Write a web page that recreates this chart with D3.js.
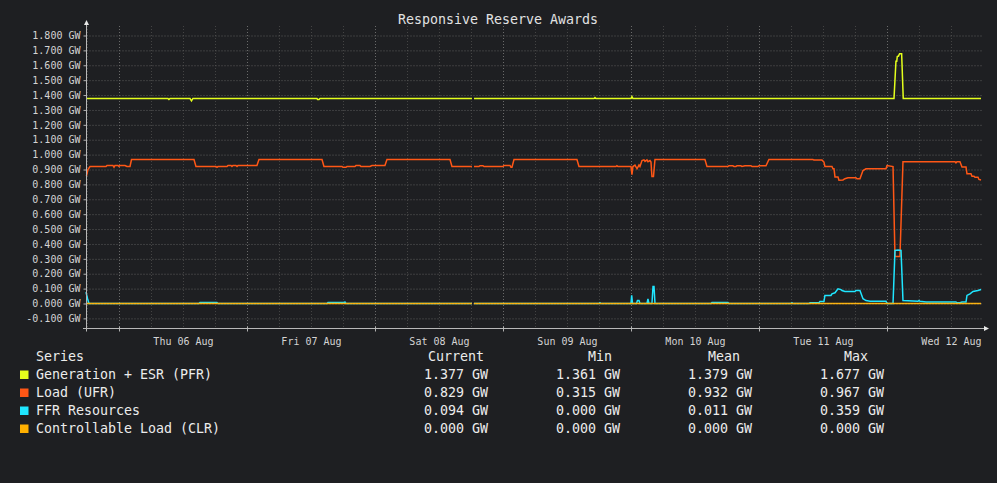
<!DOCTYPE html>
<html>
<head>
<meta charset="utf-8">
<script src="https://cdn.jsdelivr.net/npm/d3@7"></script>
<style>
    html, body { margin: 0; padding: 0; background: #1e1f22; }
    svg { display: block; font-family: "DejaVu Sans Mono", monospace; }
</style>
</head>
<body>
<div id="chart"></div>
<script>
// Series data: [day-of-August hh:mm (UTC), GW]. null = missing sample
const seriesNames = ["Generation + ESR (PFR)", "Load (UFR)", "FFR Resources", "Controllable Load (CLR)"];
const seriesColors = ["#e4ff1c", "#ff5716", "#1fe6ff", "#ffb000"];
const legendCurrent = [1.377, 0.829, 0.094, 0.000];
const legendMin = [1.361, 0.315, 0.000, 0.000];
const legendMean = [1.379, 0.932, 0.011, 0.000];
const legendMax = [1.677, 0.967, 0.359, 0.000];

const genData = [
    ["05 17:49", 1.377], ["06 09:11", 1.377], ["06 09:22", 1.370], ["06 09:34", 1.377],
    ["06 13:19", 1.377], ["06 13:36", 1.361], ["06 13:52", 1.377],
    ["07 13:07", 1.377], ["07 13:15", 1.370], ["07 13:30", 1.370], ["07 13:41", 1.377],
    ["08 18:11", 1.377], ["08 18:22", null], ["08 18:34", 1.377],
    ["09 17:04", 1.377], ["09 17:15", 1.383], ["09 17:26", 1.377],
    ["10 00:00", 1.377], ["10 00:11", 1.390], ["10 00:22", 1.377],
    ["12 01:19", 1.377], ["12 01:41", 1.627], ["12 01:50", 1.627], ["12 01:56", 1.659],
    ["12 02:10", 1.662], ["12 02:18", 1.674], ["12 02:22", 1.677], ["12 02:45", 1.677],
    ["12 03:03", 1.377], ["12 17:38", 1.377]
];

const loadData = [
    ["05 17:54", 0.855], ["05 18:11", 0.900], ["05 18:34", 0.920], ["05 21:34", 0.920],
    ["05 21:45", 0.927], ["05 22:52", 0.927], ["05 23:04", 0.915], ["05 23:15", 0.927],
    ["05 23:49", 0.927], ["06 00:00", 0.920], ["06 00:11", 0.927], ["06 01:08", 0.927],
    ["06 01:30", 0.920], ["06 02:04", 0.920], ["06 02:21", 0.967], ["06 14:04", 0.967],
    ["06 14:26", 0.920], ["06 18:11", 0.920], ["06 18:22", 0.915], ["06 18:34", 0.920],
    ["06 20:15", 0.920], ["06 20:26", 0.927], ["06 21:00", 0.927], ["06 21:11", 0.920],
    ["06 21:22", 0.927], ["06 21:56", 0.927], ["06 22:08", 0.920], ["06 22:19", 0.927],
    ["07 01:52", 0.927], ["07 02:15", 0.967], ["07 14:04", 0.967], ["07 14:26", 0.920],
    ["07 17:49", 0.920], ["07 18:00", 0.915], ["07 18:34", 0.915], ["07 18:45", 0.920],
    ["07 20:15", 0.920], ["07 20:26", 0.927], ["07 21:11", 0.927], ["07 21:22", 0.920],
    ["07 23:04", 0.920], ["07 23:26", 0.927], ["08 01:52", 0.927], ["08 02:15", 0.967],
    ["08 14:04", 0.967], ["08 14:26", 0.920], ["08 18:11", 0.920], ["08 18:22", null],
    ["08 18:34", 0.920], ["08 19:30", 0.920], ["08 19:41", 0.925], ["08 20:15", 0.925],
    ["08 20:26", 0.920], ["09 00:00", 0.920], ["09 00:11", 0.927], ["09 01:19", 0.927],
    ["09 01:30", 0.915], ["09 01:41", 0.915], ["09 02:04", 0.967], ["09 13:52", 0.967],
    ["09 14:15", 0.920], ["09 21:11", 0.920], ["09 21:22", 0.925], ["09 21:34", 0.920],
    ["10 00:00", 0.920], ["10 00:11", 0.866], ["10 00:22", 0.920], ["10 00:45", 0.930],
    ["10 01:08", 0.905], ["10 01:30", 0.930], ["10 01:41", 0.920], ["10 02:04", 0.960],
    ["10 02:26", 0.965], ["10 02:38", 0.955], ["10 03:00", 0.965], ["10 03:11", 0.952],
    ["10 03:34", 0.960], ["10 03:45", 0.950], ["10 03:56", 0.853], ["10 04:13", 0.853],
    ["10 04:30", 0.967], ["10 13:52", 0.967], ["10 14:15", 0.920], ["10 18:11", 0.920],
    ["10 18:22", 0.925], ["10 19:07", 0.925], ["10 19:19", 0.920], ["10 19:41", 0.920],
    ["10 19:52", 0.925], ["10 20:37", 0.925], ["10 20:49", 0.920], ["10 21:22", 0.925],
    ["10 22:30", 0.925], ["10 22:41", 0.920], ["10 23:49", 0.920], ["11 00:00", 0.925],
    ["11 01:19", 0.925], ["11 01:52", 0.967], ["11 10:07", 0.967], ["11 10:19", 0.963],
    ["11 11:49", 0.963], ["11 12:11", 0.950], ["11 12:22", 0.920], ["11 13:41", 0.920],
    ["11 13:52", 0.905], ["11 14:04", 0.905], ["11 14:15", 0.850], ["11 14:49", 0.850],
    ["11 15:00", 0.828], ["11 15:45", 0.830], ["11 16:07", 0.838], ["11 16:41", 0.844],
    ["11 18:11", 0.844], ["11 18:22", 0.838], ["11 18:56", 0.838], ["11 19:30", 0.893],
    ["11 20:04", 0.905], ["11 23:49", 0.905], ["12 00:00", 0.927], ["12 01:08", 0.920],
    ["12 01:30", 0.315], ["12 02:26", 0.315], ["12 03:00", 0.952], ["12 12:45", 0.952],
    ["12 12:56", 0.945], ["12 13:07", 0.952], ["12 13:41", 0.952], ["12 14:04", 0.917],
    ["12 14:49", 0.917], ["12 15:00", 0.871], ["12 15:45", 0.871], ["12 15:56", 0.855],
    ["12 16:19", 0.855], ["12 16:30", 0.848], ["12 17:04", 0.848], ["12 17:15", 0.833],
    ["12 17:38", 0.829]
];

const ffrData = [
    ["05 17:49", 0.076], ["05 18:06", 0.034], ["05 18:22", 0.000],
    ["06 15:00", 0.000], ["06 15:11", 0.006], ["06 18:22", 0.006], ["06 18:34", 0.000],
    ["07 15:00", 0.000], ["07 15:11", 0.006], ["07 18:11", 0.006], ["07 18:22", 0.010], ["07 18:34", 0.000],
    ["08 18:11", 0.000], ["08 18:22", null], ["08 18:34", 0.000],
    ["09 18:00", 0.000], ["09 18:11", 0.005], ["09 18:22", 0.000],
    ["10 00:00", 0.000], ["10 00:08", 0.055], ["10 00:17", 0.000],
    ["10 01:02", 0.000], ["10 01:13", 0.020], ["10 01:30", 0.020], ["10 01:41", 0.000],
    ["10 03:00", 0.000], ["10 03:11", 0.030], ["10 03:22", 0.000],
    ["10 03:56", 0.000], ["10 04:08", 0.115], ["10 04:19", 0.115], ["10 04:30", 0.000],
    ["10 15:00", 0.000], ["10 15:11", 0.006], ["10 18:11", 0.006], ["10 18:22", 0.000],
    ["11 06:00", 0.000], ["11 06:11", 0.005], ["11 06:22", 0.000],
    ["11 09:22", 0.000], ["11 09:34", 0.005], ["11 11:15", 0.005], ["11 11:26", 0.013],
    ["11 12:11", 0.013], ["11 12:22", 0.054], ["11 13:30", 0.054], ["11 13:41", 0.065],
    ["11 14:15", 0.072], ["11 14:49", 0.099], ["11 15:22", 0.093], ["11 15:34", 0.087],
    ["11 16:07", 0.081], ["11 18:00", 0.081], ["11 18:11", 0.087], ["11 18:56", 0.087],
    ["11 19:30", 0.032], ["11 20:04", 0.020], ["11 20:49", 0.015], ["11 23:49", 0.015],
    ["12 00:00", 0.000], ["12 01:08", 0.000], ["12 01:30", 0.356], ["12 02:04", 0.359],
    ["12 02:38", 0.356], ["12 03:00", 0.020], ["12 05:49", 0.015], ["12 06:00", 0.020],
    ["12 06:11", 0.015], ["12 07:19", 0.010], ["12 12:56", 0.010], ["12 13:07", 0.005],
    ["12 13:41", 0.005], ["12 14:04", 0.010], ["12 14:49", 0.010], ["12 15:00", 0.054],
    ["12 15:34", 0.065], ["12 16:08", 0.081], ["12 17:04", 0.087], ["12 17:38", 0.094]
];

const clrData = [
    ["05 17:49", 0.000], ["08 18:11", 0.000], ["08 18:22", null], ["08 18:34", 0.000], ["12 17:38", 0.000]
];

const yTickValues = [-0.1, 0.0, 0.1, 0.2, 0.3, 0.4, 0.5, 0.6, 0.7, 0.8, 0.9, 1.0,
    1.1, 1.2, 1.3, 1.4, 1.5, 1.6, 1.7, 1.8];
const timeStart = "05 17:49";
const timeEnd = "12 17:49";

const width = 997;
const height = 483;
const parseTime = d3.utcParse("%Y-%m-%d %H:%M");
const toDate = s => parseTime("2020-08-" + s);

const svg = d3.select("#chart")
    .append("svg")
    .attr("width", width)
    .attr("height", height);

svg.append("rect")
    .attr("width", width)
    .attr("height", height)
    .attr("fill", "#1e1f22");

const x = d3.scaleUtc()
    .domain([toDate(timeStart), toDate(timeEnd)])
    .range([86, 982]);

const y = d3.scaleLinear()
    .domain([0, 1.8])
    .range([303.5, 35.5]);

const plotLeft = 86.5;
const plotRight = 982;
const plotTop = 26;
const axisY = 328.5;

// Title
svg.append("text")
    .attr("x", 498)
    .attr("y", 23.5)
    .attr("text-anchor", "middle")
    .attr("font-size", 13.3)
    .attr("fill", "#e2e2e2")
    .text("Responsive Reserve Awards");

// Vertical grid (6h minor, midnight major)
const gridTimes = d3.utcHour.every(6).range(x.domain()[0], x.domain()[1]);
svg.append("g")
    .selectAll("line")
    .data(gridTimes)
    .join("line")
    .attr("x1", d => Math.round(x(d)) + 0.5)
    .attr("x2", d => Math.round(x(d)) + 0.5)
    .attr("y1", plotTop)
    .attr("y2", axisY - 1)
    .attr("stroke", d => d.getUTCHours() === 0 ? "#6a6a6a" : "#444")
    .attr("stroke-dasharray", "1,2");

// Horizontal grid
const yGrid = svg.append("g")
    .attr("transform", `translate(${plotLeft},0)`)
    .call(d3.axisLeft(y).tickValues(yTickValues).tickSize(-(plotRight - plotLeft)).tickFormat(""));
yGrid.select(".domain").remove();
yGrid.selectAll(".tick line")
    .attr("stroke", "#5e5e5e")
    .attr("stroke-dasharray", "1,2");

// Series lines
const allSeries = [genData, loadData, ffrData, clrData];
const line = d3.line()
    .defined(d => d[1] !== null)
    .x(d => x(toDate(d[0])))
    .y(d => y(d[1]));

allSeries.forEach((data, i) => {
    svg.append("path")
        .datum(data)
        .attr("fill", "none")
        .attr("stroke", seriesColors[i])
        .attr("stroke-width", 1.5)
        .attr("stroke-linejoin", "miter")
        .attr("d", line);
});

// zero grid dotted over the CLR line
svg.append("line")
    .attr("x1", plotLeft)
    .attr("x2", plotRight)
    .attr("y1", y(0))
    .attr("y2", y(0))
    .attr("stroke", "#d0d0d0")
    .attr("stroke-opacity", 0.3)
    .attr("stroke-dasharray", "1,2");

// Y axis with labels
const yAxis = svg.append("g")
    .attr("transform", `translate(${plotLeft},0)`)
    .call(d3.axisLeft(y)
        .tickValues(yTickValues)
        .tickSize(3)
        .tickPadding(3)
        .tickFormat(d => d.toFixed(3) + " GW"));
yAxis.select(".domain").remove();
yAxis.selectAll(".tick line").attr("stroke", "#b0b0b0");
yAxis.selectAll(".tick text")
    .attr("fill", "#d4d4d4")
    .attr("font-size", 10)
    .attr("font-family", "DejaVu Sans Mono, monospace");

// X axis labels at noon
const labelTimes = d3.utcHour.every(24).range(x.domain()[0], x.domain()[1])
    .map(d => d3.utcHour.offset(d, 12));
const xAxis = svg.append("g")
    .attr("transform", `translate(0,${axisY})`)
    .call(d3.axisBottom(x)
        .tickValues(labelTimes.filter(d => x(d) < plotRight))
        .tickSize(0)
        .tickPadding(9)
        .tickFormat(d3.utcFormat("%a %d %b")));
xAxis.select(".domain").remove();
xAxis.selectAll(".tick text")
    .attr("fill", "#d4d4d4")
    .attr("font-size", 10)
    .attr("font-family", "DejaVu Sans Mono, monospace");

// Midnight ticks on x axis
svg.append("g")
    .selectAll("line")
    .data(gridTimes.filter(d => d.getUTCHours() === 0))
    .join("line")
    .attr("x1", d => Math.round(x(d)) + 0.5)
    .attr("x2", d => Math.round(x(d)) + 0.5)
    .attr("y1", axisY - 2)
    .attr("y2", axisY + 3)
    .attr("stroke", "#b0b0b0");

// Axis lines with arrows
svg.append("line")
    .attr("x1", plotLeft).attr("x2", plotLeft)
    .attr("y1", 23).attr("y2", axisY + 3)
    .attr("stroke", "#b8b8b8");
svg.append("line")
    .attr("x1", 83).attr("x2", 986)
    .attr("y1", axisY).attr("y2", axisY)
    .attr("stroke", "#b8b8b8");
svg.append("path")
    .attr("d", `M${plotLeft},20 L${plotLeft - 2.5},25 L${plotLeft + 2.5},25 Z`)
    .attr("fill", "#e8e8e8");
svg.append("path")
    .attr("d", `M989,${axisY} L984,${axisY - 2.5} L984,${axisY + 2.5} Z`)
    .attr("fill", "#e8e8e8");

// Legend
const legend = svg.append("g")
    .attr("font-size", 13.3)
    .attr("fill", "#ececec");
const colEnds = [488, 620, 752, 884];
const headEnds = [484, 612, 740, 868];
const headers = ["Current", "Min", "Mean", "Max"];
const columns = [legendCurrent, legendMin, legendMean, legendMax];

legend.append("text").attr("x", 36).attr("y", 361).text("Series");
headers.forEach((h, j) => {
    legend.append("text")
        .attr("x", headEnds[j])
        .attr("y", 361)
        .attr("text-anchor", "end")
        .text(h);
});

seriesNames.forEach((name, i) => {
    const rowY = 379 + i * 18;
    legend.append("rect")
        .attr("x", 20)
        .attr("y", rowY - 8.5)
        .attr("width", 8.5)
        .attr("height", 8.5)
        .attr("fill", seriesColors[i]);
    legend.append("text")
        .attr("x", 36)
        .attr("y", rowY)
        .text(name);
    columns.forEach((col, j) => {
        legend.append("text")
            .attr("x", colEnds[j])
            .attr("y", rowY)
            .attr("text-anchor", "end")
            .text(col[i].toFixed(3) + " GW");
    });
});
</script>
</body>
</html>
